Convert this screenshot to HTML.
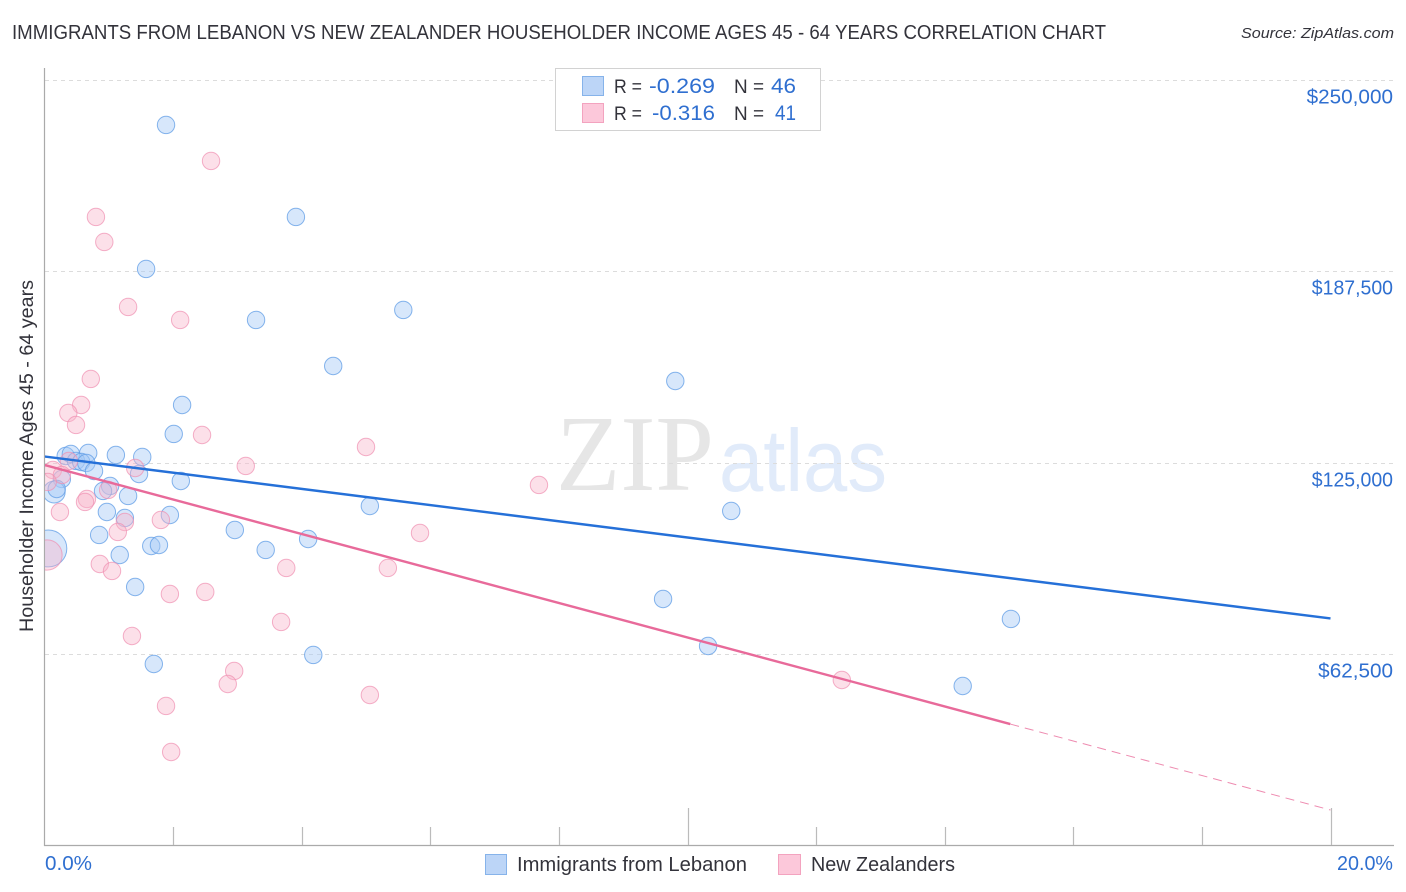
<!DOCTYPE html>
<html lang="en">
<head>
<meta charset="utf-8">
<title>Immigrants from Lebanon vs New Zealander Householder Income Correlation Chart</title>
<style>
html,body{margin:0;padding:0;background:#fff;}
body{width:1406px;height:892px;overflow:hidden;}
svg{display:block;font-family:"Liberation Sans",Arial,sans-serif;}
</style>
</head>
<body>
<svg id="chart" width="1406" height="892" viewBox="0 0 1406 892" xmlns="http://www.w3.org/2000/svg">
  <defs>
    <clipPath id="plot-clip"><rect x="45" y="60" width="1349" height="785"></rect></clipPath>
  </defs>
  <rect x="0" y="0" width="1406" height="892" fill="#ffffff"></rect>

  <text x="12" y="39" font-size="20" fill="#33333b" textLength="1094" lengthAdjust="spacingAndGlyphs">IMMIGRANTS FROM LEBANON VS NEW ZEALANDER HOUSEHOLDER INCOME AGES 45 - 64 YEARS CORRELATION CHART</text>
  <text x="1241" y="38" font-size="15" font-style="italic" fill="#33333b" textLength="153" lengthAdjust="spacingAndGlyphs">Source: ZipAtlas.com</text>

  <g>
    <text x="556" y="490" font-family="'Liberation Serif',serif" font-size="108" fill="#e6e6e6" textLength="158" lengthAdjust="spacingAndGlyphs">ZIP</text>
    <text x="719" y="491" font-size="88" fill="#e1ebfa" textLength="168" lengthAdjust="spacingAndGlyphs">atlas</text>
  </g>

  <g id="grid"></g>
  <g id="axes"></g>
  <g id="y-labels"></g>
  <g id="x-labels"></g>

  <g clip-path="url(#plot-clip)">
    <g id="points-a"></g>
    <g id="points-b"></g>
    <g id="trends"></g>
  </g>

  <text transform="translate(33,632) rotate(-90)" font-size="19" fill="#33333b" textLength="352" lengthAdjust="spacingAndGlyphs">Householder Income Ages 45 - 64 years</text>

  <g>
    <rect x="555.5" y="68.5" width="265" height="62" fill="#ffffff" stroke="#d2d2d2" stroke-width="1"></rect>
    <rect x="582.5" y="76.5" width="21" height="19" fill="#bcd5f7" stroke="#86b3ea" stroke-width="1"></rect>
    <rect x="582.5" y="103.5" width="21" height="19" fill="#fcc8da" stroke="#f3a3bf" stroke-width="1"></rect>
    <text x="614" y="93" font-size="19.5" fill="#33333b" textLength="28" lengthAdjust="spacingAndGlyphs">R =</text>
    <text x="649" y="93" font-size="21.5" fill="#2f6fd0" textLength="66" lengthAdjust="spacingAndGlyphs">-0.269</text>
    <text x="734" y="93" font-size="19.5" fill="#33333b" textLength="30" lengthAdjust="spacingAndGlyphs">N =</text>
    <text x="771" y="93" font-size="21.5" fill="#2f6fd0" textLength="25" lengthAdjust="spacingAndGlyphs">46</text>
    <text x="614" y="120" font-size="19.5" fill="#33333b" textLength="28" lengthAdjust="spacingAndGlyphs">R =</text>
    <text x="652" y="120" font-size="21.5" fill="#2f6fd0" textLength="63" lengthAdjust="spacingAndGlyphs">-0.316</text>
    <text x="734" y="120" font-size="19.5" fill="#33333b" textLength="30" lengthAdjust="spacingAndGlyphs">N =</text>
    <text x="775" y="120" font-size="21.5" fill="#2f6fd0" textLength="21" lengthAdjust="spacingAndGlyphs">41</text>
  </g>

  <g>
    <g>
      <rect x="485.5" y="854.5" width="21" height="20" fill="#bcd5f7" stroke="#86b3ea" stroke-width="1"></rect>
      <text x="517" y="871" font-size="20" fill="#33333b" textLength="230" lengthAdjust="spacingAndGlyphs">Immigrants from Lebanon</text>
    </g>
    <g>
      <rect x="778.5" y="854.5" width="22" height="20" fill="#fcc8da" stroke="#f3a3bf" stroke-width="1"></rect>
      <text x="811" y="871" font-size="20" fill="#33333b" textLength="144" lengthAdjust="spacingAndGlyphs">New Zealanders</text>
    </g>
  </g>
</svg>

<script>
// Chart data
const yTickValues = [62500, 125000, 187500, 250000];
const yTickLabels = ["$62,500", "$125,000", "$187,500", "$250,000"];
const xTickValues = [0, 2, 4, 6, 8, 10, 12, 14, 16, 18, 20];
const xEndLabels = ["0.0%", "20.0%"];

const lebanonShare = [1.89,3.91,1.58,3.29,5.58,4.49,9.81,2.14,2.01,0.33,0.41,0.68,1.11,1.52,0.49,0.57,0.65,0.77,1.47,2.12,0.27,0.15,0.19,1.02,0.91,1.30,0.97,1.25,1.95,2.96,3.44,0.85,1.66,1.78,1.17,1.41,0.06,4.10,5.06,10.68,9.62,10.32,15.03,14.28,1.70,4.18];
const lebanonIncome = [235300,205250,188260,171600,174870,156570,151670,143830,134360,127170,127830,128150,127500,126850,125540,125210,124890,122270,121290,119000,119660,115410,116390,117370,115740,114110,108880,106920,107900,103000,96470,101370,97770,98100,94830,84380,96960,100060,110840,109210,80460,65100,73930,52040,59220,62170];
const lebanonWeight = [1,1,1,1,1,1,1,1,1,1,1,1,1,1,1,1,1,1,1,1,1,1.6,1,1,1,1,1,1,1,1,1,1,1,1,1,1,4.5,1,1,1,1,1,1,1,1,1];

const zealandShare = [2.59,0.80,0.93,1.30,2.11,0.72,0.57,0.37,0.49,2.45,5.00,3.13,1.41,7.69,5.84,1.81,1.25,1.14,0.86,1.05,3.76,5.34,1.95,2.50,3.68,1.36,2.95,2.85,5.06,1.89,1.97,12.40,0.66,0.63,0.24,0.99,0.04,0.38,0.13,0.27,0.05];
const zealandIncome = [223540,205250,197080,175850,171600,152330,143830,141220,137300,134030,130110,123910,123250,117700,102020,106270,105610,102350,91890,89610,90590,90590,82090,82750,72950,68370,56940,52690,49100,45510,30480,54000,113130,112150,108880,116070,94830,125540,122600,120970,118680];
const zealandWeight = [1,1,1,1,1,1,1,1,1,1,1,1,1,1,1,1,1,1,1,1,1,1,1,1,1,1,1,1,1,1,1,1,1,1,1,1,3,1,1,1,1];

const lebanonTrendX = [0, 20];
const lebanonTrendY = [127010, 74090];
const zealandTrendX = [0, 15.02];
const zealandTrendY = [124230, 39600];
const zealandExtendX = [15.02, 20];
const zealandExtendY = [39600, 11530];

// Axis functions
function xScale(v) { return 44.5 + v * 64.3; }
function yScale(v) { return 845.3 - v * 191.33 / 62500; }

const NS = 'http://www.w3.org/2000/svg';
function make(tag, parent, props) {
  const el = document.createElementNS(NS, tag);
  Object.keys(props).forEach(function (k) { el.setAttribute(k, props[k]); });
  parent.appendChild(el);
  return el;
}
function labelWidth(s) {
  let w = 0;
  for (const ch of s) {
    if (ch === '1') w += 6.4;
    else if (ch === ',' || ch === '.') w += 5.2;
    else if (ch === '%') w += 17;
    else w += 11.6;
  }
  return w;
}

// Gridlines and y labels
const gridG = document.getElementById('grid');
const yLabelG = document.getElementById('y-labels');
yTickValues.forEach(function (v, i) {
  const y = Math.round(yScale(v)) + 0.5;
  const g = make('line', gridG, {x1: 45, x2: 1394, y1: y, y2: y, stroke: '#dcdcdc', 'stroke-width': 1, 'stroke-dasharray': '4 4'});
  
  
  const w = labelWidth(yTickLabels[i]);
  const t = make('text', yLabelG, {x: 1393 - w, y: y + 23, 'font-size': 20.5, fill: '#2f6fd0', textLength: w, lengthAdjust: 'spacingAndGlyphs'});
  t.textContent = yTickLabels[i];
  
  
});

// Axes and ticks
const axesG = document.getElementById('axes');
const yAxis = make('line', axesG, {x1: 44.5, x2: 44.5, y1: 68, y2: 846, stroke: '#aaaaaa', 'stroke-width': 1.2});


const xAxis = make('line', axesG, {x1: 44, x2: 1394, y1: 845.5, y2: 845.5, stroke: '#aaaaaa', 'stroke-width': 1.2});


xTickValues.forEach(function (v, i) {
  if (i === 0) return;
  const x = Math.round(xScale(v)) + 0.5;
  const top = (v === 10 || v === 20) ? 808 : 827;
  const tk = make('line', axesG, {x1: x, x2: x, y1: top, y2: 845, stroke: '#bbbbbb', 'stroke-width': 1.2});
  
  
});

// X labels
const xLabelG = document.getElementById('x-labels');
const x0Label = make('text', xLabelG, {x: 45, y: 870, 'font-size': 20.5, fill: '#2f6fd0', textLength: 47, lengthAdjust: 'spacingAndGlyphs'});
x0Label.textContent = xEndLabels[0];


const x1Label = make('text', xLabelG, {x: 1337, y: 870, 'font-size': 20.5, fill: '#2f6fd0', textLength: 56, lengthAdjust: 'spacingAndGlyphs'});
x1Label.textContent = xEndLabels[1];



// Points
function radius(w) { return 8.7 * Math.sqrt(w); }
const ptsA = document.getElementById('points-a');
lebanonShare.forEach(function (v, i) {
  const c = make('circle', ptsA, {cx: xScale(v), cy: yScale(lebanonIncome[i]), r: radius(lebanonWeight[i]), fill: '#a6c9f6', 'fill-opacity': 0.45, stroke: '#5f9ce6', 'stroke-opacity': 0.75, 'stroke-width': 1});
  
  
});
const ptsB = document.getElementById('points-b');
zealandShare.forEach(function (v, i) {
  const c = make('circle', ptsB, {cx: xScale(v), cy: yScale(zealandIncome[i]), r: radius(zealandWeight[i]), fill: '#f9b5cb', 'fill-opacity': 0.42, stroke: '#f08fb0', 'stroke-opacity': 0.7, 'stroke-width': 1});
  
  
});

// Trend lines
const trendG = document.getElementById('trends');
const tA = make('line', trendG, {x1: xScale(lebanonTrendX[0]), y1: yScale(lebanonTrendY[0]), x2: xScale(lebanonTrendX[1]), y2: yScale(lebanonTrendY[1]), stroke: '#2570d8', 'stroke-width': 2.4});


const tB = make('line', trendG, {x1: xScale(zealandTrendX[0]), y1: yScale(zealandTrendY[0]), x2: xScale(zealandTrendX[1]), y2: yScale(zealandTrendY[1]), stroke: '#e86a9a', 'stroke-width': 2.4});


const tC = make('line', trendG, {x1: xScale(zealandExtendX[0]), y1: yScale(zealandExtendY[0]), x2: xScale(zealandExtendX[1]), y2: yScale(zealandExtendY[1]), stroke: '#ee8bb0', 'stroke-width': 1, 'stroke-dasharray': '9 6'});


</script>
</body>
</html>
